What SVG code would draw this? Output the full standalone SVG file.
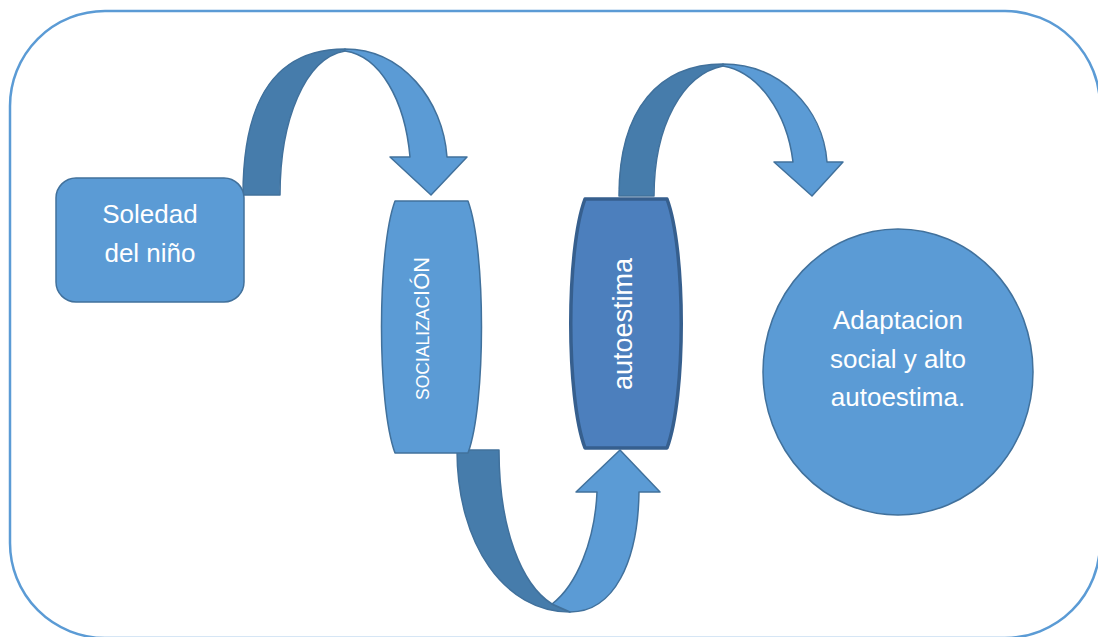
<svg xmlns="http://www.w3.org/2000/svg" width="1098" height="637" viewBox="0 0 1098 637">
<style>
.light{fill:#5B9BD5;stroke:#41719C;stroke-width:1.5;stroke-linejoin:round}
.dark{fill:#467CAB;stroke:#41719C;stroke-width:1.5;stroke-linejoin:round}
.txt{font-family:"Liberation Sans",Arial,sans-serif;fill:#FFFFFF}
</style>
<rect x="10" y="11" width="1090" height="627" rx="95" ry="95" fill="#FFFFFF" stroke="#5B9BD5" stroke-width="2.5"/>
<g id="connectors">
  <g id="arrow1">
    <path class="dark" d="M243,195 C243,95 278,49 345,49 L345,51 C305,58 280,120 280,195 Z"/>
    <path class="light" d="M345,49 C402,49 443,100 447,157 L467,157 L431,195 L390,157 L410,157 C405,100 380,56 345,51 Z"/>
  </g>
  <g id="arrow2">
    <path class="dark" d="M457,450 L499,450 C499,530 522,585 552,604 L570,612 C505,612 457,545 457,450 Z"/>
    <path class="light" d="M552,604 C577,585 595,540 597,492 L576,492 L620,450 L660,492 L639,492 C638,562 614,612 570,612 Z"/>
  </g>
  <g id="arrow3">
    <path class="dark" d="M619,196 C619,108 660,64 723,64 L723,66 C683,74 654,125 654,196 Z"/>
    <path class="light" d="M723,64 C780,64 823,108 827,162 L843,162 L812,196 L774,162 L793,162 C787,112 758,72 723,66 Z"/>
  </g>
</g>
<g id="soledad">
  <rect class="light" x="56" y="178" width="188" height="124" rx="20" ry="20"/>
  <text class="txt" x="150" y="223" font-size="26" text-anchor="middle">Soledad</text>
  <text class="txt" x="150" y="262" font-size="26" text-anchor="middle">del niño</text>
</g>
<g id="socializacion">
  <path class="light" d="M395,201 L468,201 C486,250 486,404 468,453 L395,453 C377,404 377,250 395,201 Z"/>
  <text class="txt" transform="translate(429,400) rotate(-90)" font-size="17.5">SOCIALIZAC<tspan font-size="22">IÓN</tspan></text>
</g>
<g id="autoestima">
  <path d="M585,199 L667,199 C686,250 686,397 667,448 L585,448 C566,397 566,250 585,199 Z" fill="#4C7FBD" stroke="#365F8E" stroke-width="3.5" stroke-linejoin="round"/>
  <text class="txt" transform="translate(632,390) rotate(-90)" font-size="27">autoestima</text>
</g>
<g id="adaptacion">
  <ellipse class="light" cx="898" cy="372" rx="135" ry="143"/>
  <text class="txt" x="898" y="329" font-size="26" text-anchor="middle">Adaptacion</text>
  <text class="txt" x="898" y="368" font-size="26" text-anchor="middle">social y alto</text>
  <text class="txt" x="898" y="406" font-size="26" text-anchor="middle">autoestima.</text>
</g>
</svg>
